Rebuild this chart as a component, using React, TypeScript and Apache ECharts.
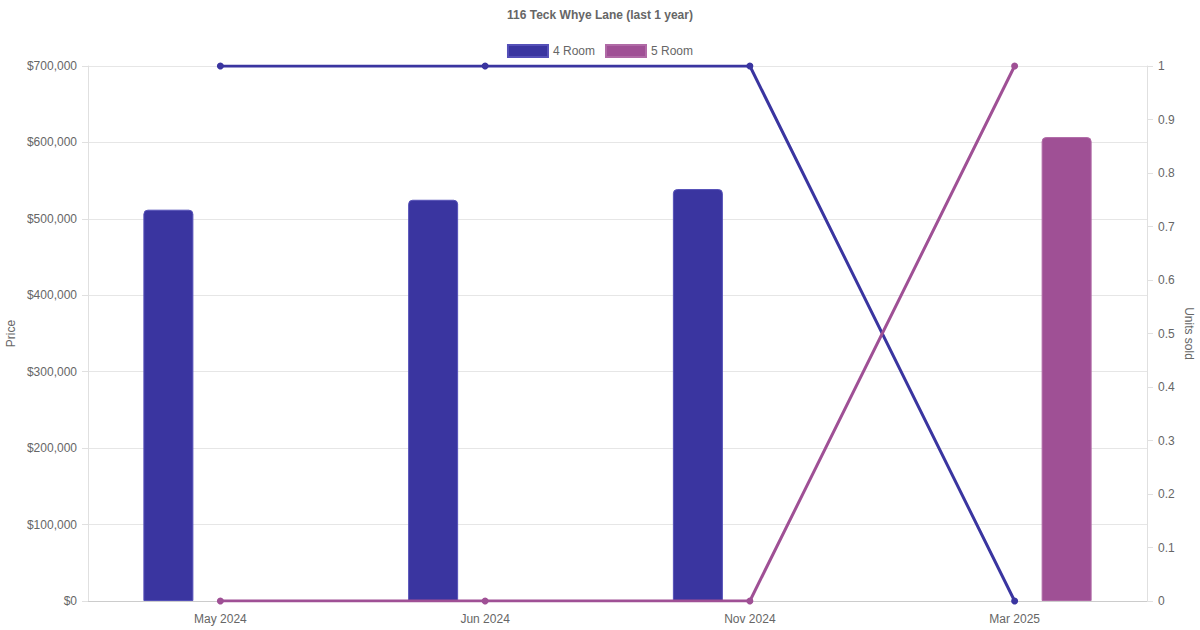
import React, { useEffect, useRef } from 'react';
import * as echarts from 'echarts';

const categories = ['May 2024', 'Jun 2024', 'Nov 2024', 'Mar 2025'];
const price4Room = [512000, 525000, 539000, null];
const price5Room = [null, null, null, 607000];
const units4Room = [1, 1, 1, 0];
const units5Room = [0, 0, 0, 1];

const C4 = '#3a35a0';
const C5 = '#9f5095';
const FONT = '"Liberation Sans", Arial, sans-serif';

const App: React.FC = () => {
  const chartRef = useRef<HTMLDivElement>(null);

  useEffect(() => {
    document.body.style.margin = '0';
    if (!chartRef.current) return;
    const chart = echarts.init(chartRef.current, undefined, { renderer: 'svg' });
    const axisText = { color: '#666', fontSize: 12, fontFamily: FONT };
    const option = {
      animation: false,
      textStyle: { fontFamily: FONT },
      title: {
        text: '116 Teck Whye Lane (last 1 year)',
        left: 'center',
        top: 4,
        textStyle: { color: '#666', fontSize: 12, fontWeight: 'bold', fontFamily: FONT },
      },
      legend: {
        top: 39,
        left: 'center',
        icon: 'rect',
        itemWidth: 40,
        itemHeight: 12,
        itemGap: 10,
        data: ['4 Room', '5 Room'],
        textStyle: axisText,
      },
      grid: { left: 88, right: 53, top: 66, bottom: 29, outerBoundsMode: 'none', containLabel: false },
      xAxis: {
        type: 'category',
        data: categories,
        axisTick: { show: false },
        axisLine: { lineStyle: { color: '#ccc' } },
        axisLabel: { ...axisText, margin: 12 },
      },
      yAxis: [
        {
          type: 'value',
          name: 'Price',
          nameLocation: 'middle',
          nameGap: 71,
          nameMoveOverlap: false,
          nameTextStyle: axisText,
          min: 0,
          max: 700000,
          interval: 100000,
          axisLine: { show: true, lineStyle: { color: '#e0e0e0' } },
          axisTick: { show: true, length: 6, lineStyle: { color: '#e0e0e0' } },
          splitLine: { lineStyle: { color: '#e6e6e6' } },
          axisLabel: {
            ...axisText,
            margin: 11,
            formatter: (v: number) => '$' + v.toLocaleString('en-US'),
          },
        },
        {
          type: 'value',
          name: 'Units sold',
          nameLocation: 'middle',
          nameRotate: -90,
          nameGap: 36,
          nameMoveOverlap: false,
          nameTextStyle: axisText,
          min: 0,
          max: 1,
          interval: 0.1,
          axisLine: { show: true, lineStyle: { color: '#e0e0e0' } },
          axisTick: { show: true, length: 6, lineStyle: { color: '#e0e0e0' } },
          splitLine: { show: false },
          axisLabel: { ...axisText, margin: 11 },
        },
      ],
      series: [
        {
          name: '4 Room',
          type: 'bar',
          yAxisIndex: 0,
          data: price4Room,
          barWidth: 50,
          barGap: '108%',
          itemStyle: { color: C4, borderColor: '#5550b8', borderWidth: 1, borderRadius: [4, 4, 0, 0] },
        },
        {
          name: '5 Room',
          type: 'bar',
          yAxisIndex: 0,
          data: price5Room,
          barWidth: 50,
          barGap: '108%',
          itemStyle: { color: C5, borderColor: '#b06aa6', borderWidth: 1, borderRadius: [4, 4, 0, 0] },
        },
        {
          name: '4 Room',
          type: 'line',
          yAxisIndex: 1,
          data: units4Room,
          z: 5,
          symbol: 'circle',
          symbolSize: 7,
          lineStyle: { color: C4, width: 3 },
          itemStyle: { color: C4 },
        },
        {
          name: '5 Room',
          type: 'line',
          yAxisIndex: 1,
          data: units5Room,
          z: 5,
          symbol: 'circle',
          symbolSize: 7,
          lineStyle: { color: C5, width: 3 },
          itemStyle: { color: C5 },
        },
      ],
    };
    chart.setOption(option);
    return () => {
      chart.dispose();
    };
  }, []);

  return <div ref={chartRef} style={{ width: 1200, height: 630 }} />;
};

export default App;
